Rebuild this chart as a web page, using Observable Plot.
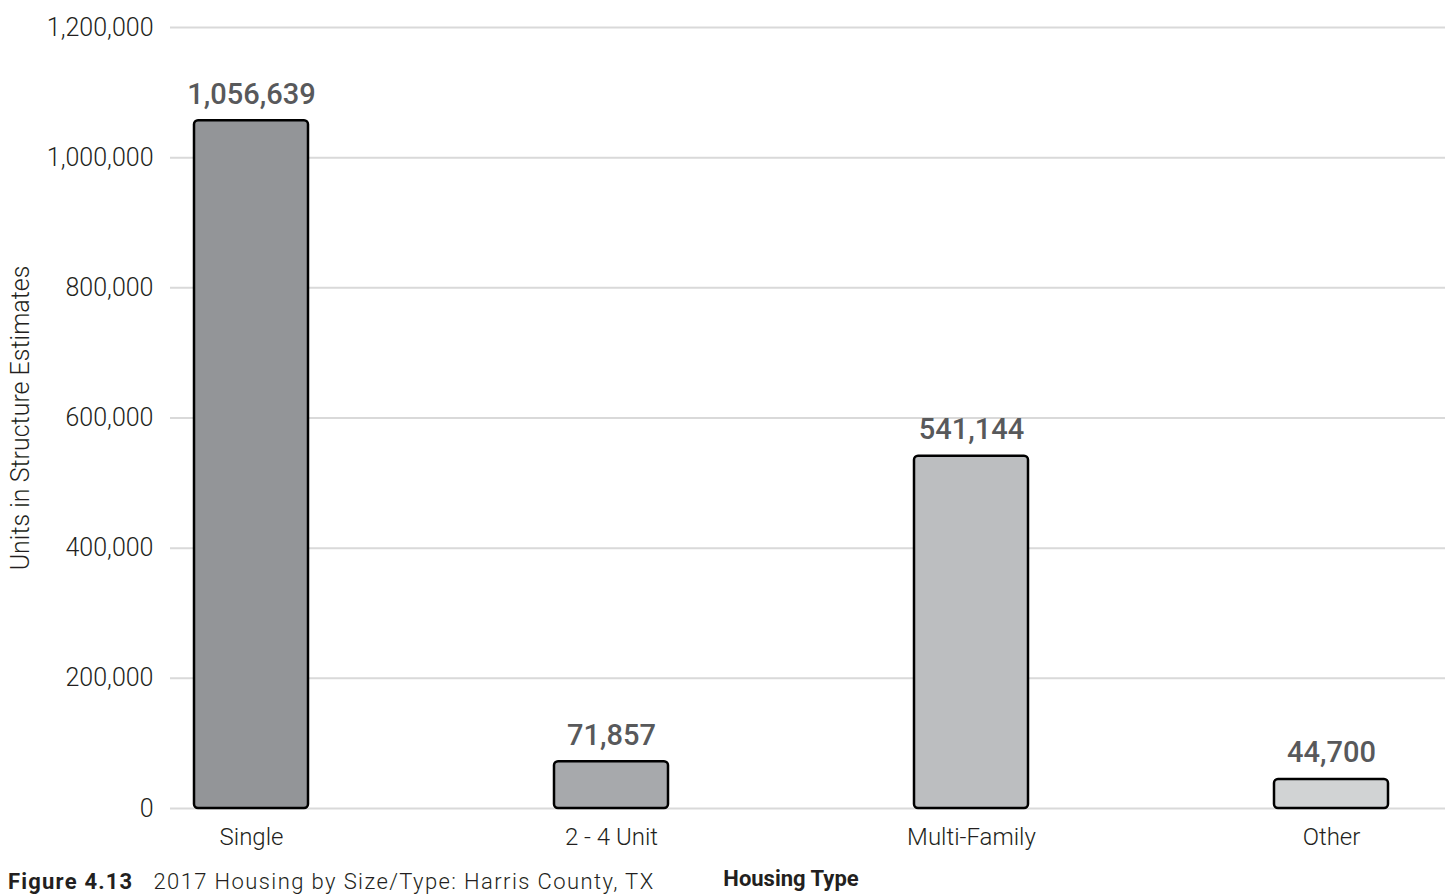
<!DOCTYPE html>
<html>
<head>
<meta charset="utf-8">
<script src="https://cdn.jsdelivr.net/npm/d3@7"></script>
<script src="https://cdn.jsdelivr.net/npm/@observablehq/plot@0.6"></script>
<style>
  html, body { margin: 0; padding: 0; background: #fff; }
  #wrap { position: relative; width: 1452px; height: 895px; font-family: Roboto, "Noto Sans", sans-serif; }
  #caption { position: absolute; left: 8px; top: 869px; font-size: 22px; color: #231f20; white-space: nowrap; letter-spacing: 1.4px; font-weight: 300; }
  #caption b { margin-right: 20px; font-weight: bold; letter-spacing: 1.2px; }
</style>
</head>
<body>
<div id="wrap">
  <div id="chart"></div>
  <div id="caption"><b>Figure 4.13</b>2017 Housing by Size/Type: Harris County, TX</div>
</div>
<script>
const categories = ["Single", "2 - 4 Unit", "Multi-Family", "Other"];
const values = [1056639, 71857, 541144, 44700];
const barColors = ["#939598", "#a7a9ac", "#bcbec0", "#d1d3d4"];
const yTicks = [0, 200000, 400000, 600000, 800000, 1000000, 1200000];
const yTitle = "Units in Structure Estimates";
const xTitle = "Housing Type";

const data = categories.map((c, i) => ({category: c, value: values[i]}));
const fmt = d3.format(",");

const chart = Plot.plot({
  width: 1452,
  height: 895,
  marginTop: 27,
  marginBottom: 87,
  marginLeft: 170,
  marginRight: 7,
  style: {fontFamily: "Roboto, 'Noto Sans', sans-serif", background: "#fff", color: "#231f20"},
  x: {domain: categories, paddingInner: 0.684, paddingOuter: 0.108, align: 0.295, label: null},
  y: {domain: [0, 1200000], label: null},
  color: {domain: categories, range: barColors},
  marks: [
    Plot.ruleY(yTicks, {stroke: "#d9d9d9", strokeWidth: 2}),
    Plot.barY(data, {x: "category", y: "value", fill: "category", stroke: "#000", strokeWidth: 2.5, rx: 4}),
    Plot.text(data, {x: "category", y: "value", text: d => fmt(d.value), lineAnchor: "bottom", dy: -17,
      fontSize: 29, fontWeight: 500, fill: "#58595b", letterSpacing: 1.8}),
    Plot.axisY({ticks: yTicks, tickFormat: d => fmt(d), tickSize: 0, tickPadding: 17, fontSize: 25, fontWeight: 300, letterSpacing: 3.5, label: null}),
    Plot.axisX({tickSize: 0, tickPadding: 19, fontSize: 24, fontWeight: 300, letterSpacing: 1.6, label: null}),
    Plot.text([yTitle], {text: d => d, frameAnchor: "left", textAnchor: "middle", rotate: -90, dx: -150, fontSize: 25, fontWeight: 300, letterSpacing: 4.2, fill: "#231f20"}),
    Plot.text([xTitle], {text: d => d, frameAnchor: "bottom", dx: -17, dy: 77, fontSize: 22, fontWeight: "bold", letterSpacing: 0.5, fill: "#231f20"})
  ]
});
document.getElementById("chart").appendChild(chart);
</script>
</body>
</html>
